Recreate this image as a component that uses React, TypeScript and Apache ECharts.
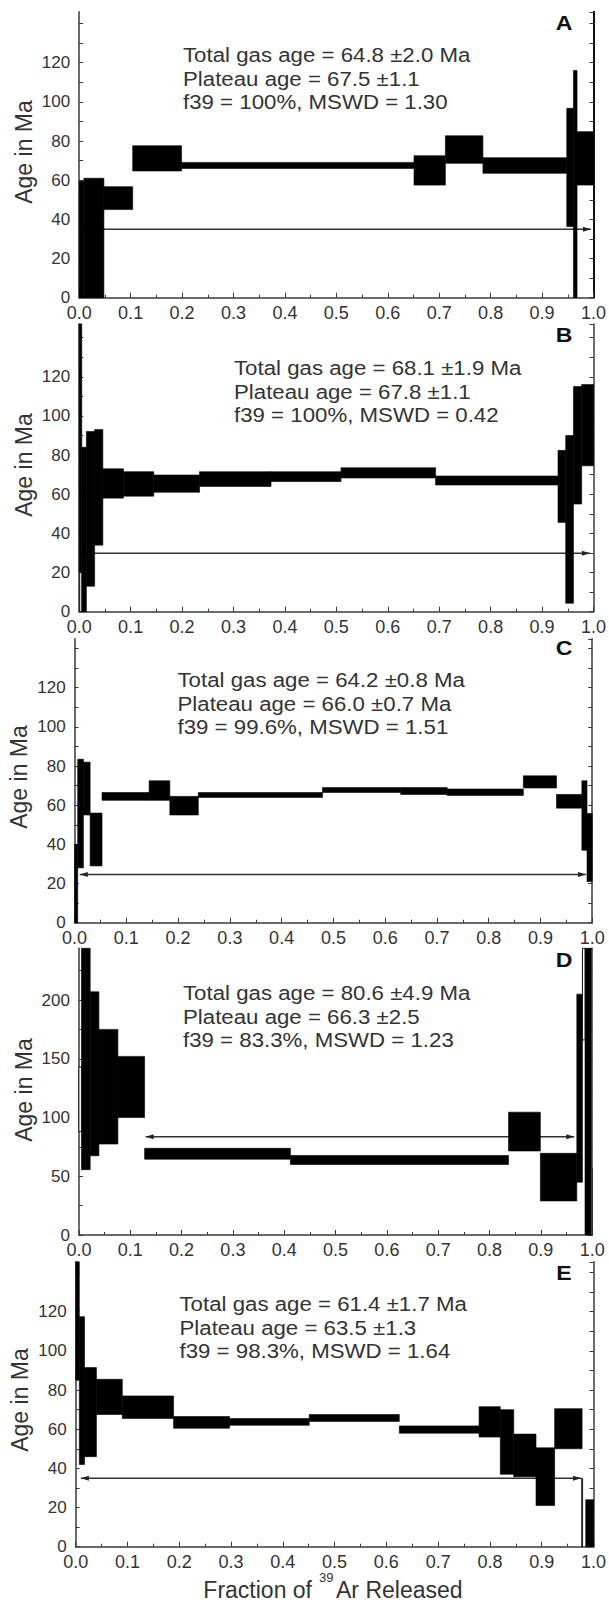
import React, { useEffect, useRef } from "react";
import * as echarts from "echarts";

// ---- tick labels ----
const ageTickLabels = [0, 20, 40, 60, 80, 100, 120];
const ageTickLabelsD = [0, 50, 100, 150, 200];
const fracTickLabels = ["0.0", "0.1", "0.2", "0.3", "0.4", "0.5", "0.6", "0.7", "0.8", "0.9", "1.0"];

// ---- step data: [cumulative fraction start, end, age low, age high] ----
const stepsA = [
  [0, 0.009, 0, 59.5],
  [0.009, 0.048, 0, 61],
  [0.048, 0.104, 45, 56.7],
  [0.104, 0.199, 64.7, 77.6],
  [0.199, 0.651, 66, 69.1],
  [0.651, 0.712, 57.5, 72.5],
  [0.712, 0.785, 68.6, 82.7],
  [0.785, 0.948, 63.5, 71.5],
  [0.948, 0.961, 36.3, 96.7],
  [0.961, 0.968, 0, 116],
  [0.968, 1.0, 57.5, 84.8],
];
const hollowA: number[][] = [];

const stepsB = [
  [0, 0.005, 20, 150],
  [0.005, 0.014, 0, 84],
  [0.014, 0.03, 13, 92],
  [0.03, 0.046, 34, 93],
  [0.046, 0.086, 58, 73],
  [0.086, 0.145, 59, 71.5],
  [0.145, 0.234, 61, 69.8],
  [0.234, 0.373, 64, 71.5],
  [0.373, 0.509, 66.5, 71.5],
  [0.509, 0.693, 68.3, 73.5],
  [0.693, 0.931, 64.7, 69.3],
  [0.931, 0.946, 45.6, 82.4],
  [0.946, 0.961, 4.3, 90],
  [0.961, 0.977, 55, 115],
  [0.977, 1.0, 74.5, 116],
];
const hollowB = [[0.001, 0.005, 0, 20]];

const stepsC = [
  [0, 0.006, 0, 40],
  [0.006, 0.017, 28, 83.5],
  [0.017, 0.03, 55, 82],
  [0.03, 0.053, 29, 56],
  [0.053, 0.144, 62.5, 66.5],
  [0.144, 0.184, 62.5, 72.5],
  [0.184, 0.239, 55, 64.5],
  [0.239, 0.479, 64, 66.5],
  [0.479, 0.63, 66.5, 69],
  [0.63, 0.72, 65.5, 69],
  [0.72, 0.867, 65, 68.3],
  [0.867, 0.931, 68.8, 75],
  [0.931, 0.98, 58.5, 65.5],
  [0.98, 0.99, 37, 72.5],
  [0.99, 1.0, 21, 55.8],
];
const hollowC: number[][] = [];

const stepsD = [
  [0.005, 0.022, 55.6, 250],
  [0.022, 0.039, 67.4, 207],
  [0.039, 0.076, 77.4, 175],
  [0.076, 0.128, 100, 152],
  [0.128, 0.412, 64.5, 73.8],
  [0.412, 0.837, 60, 67.7],
  [0.837, 0.899, 71.5, 104.5],
  [0.899, 0.97, 29, 69.5],
  [0.97, 0.981, 45, 205],
  [0.986, 0.998, 0, 250],
];
const hollowD = [
  [0.0, 0.005, 88, 143],
  [0.981, 0.986, 166, 250],
  [0.998, 1.0, 0, 57],
];

const stepsE = [
  [0, 0.007, 85, 150],
  [0.007, 0.017, 42, 117.5],
  [0.017, 0.04, 46, 91.5],
  [0.04, 0.09, 67.5, 85.5],
  [0.09, 0.189, 65.5, 77],
  [0.189, 0.297, 60.5, 66.5],
  [0.297, 0.451, 62, 65.5],
  [0.451, 0.625, 64, 67.5],
  [0.625, 0.779, 58, 61.7],
  [0.779, 0.82, 56, 71.5],
  [0.82, 0.846, 37, 70],
  [0.846, 0.889, 35.7, 57.5],
  [0.889, 0.925, 21, 50.5],
  [0.925, 0.978, 50, 70.5],
  [0.977, 0.979, 0, 35],
  [0.985, 1.0, 0, 24],
];
const hollowE: number[][] = [];

// ---- plateau arrows: [start, end, age] ----
const plateauA = [[0.0, 0.995, 34.9]];
const plateauB = [[0.0, 0.993, 29.8]];
const plateauC = [[0.01, 0.988, 24.6]];
const plateauD = [[0.13, 0.965, 83.7]];
const plateauE = [[0.01, 0.976, 34.9]];

// ---- annotation texts ----
const textsA = ["Total gas age = 64.8 \u00b12.0 Ma", "Plateau age = 67.5 \u00b11.1", "f39 = 100%, MSWD = 1.30"];
const textsB = ["Total gas age = 68.1 \u00b11.9 Ma", "Plateau age = 67.8 \u00b11.1", "f39 = 100%, MSWD = 0.42"];
const textsC = ["Total gas age = 64.2 \u00b10.8 Ma", "Plateau age = 66.0 \u00b10.7 Ma", "f39 = 99.6%, MSWD = 1.51"];
const textsD = ["Total gas age = 80.6 \u00b14.9 Ma", "Plateau age = 66.3 \u00b12.5", "f39 = 83.3%, MSWD = 1.23"];
const textsE = ["Total gas age = 61.4 \u00b11.7 Ma", "Plateau age = 63.5 \u00b11.3", "f39 = 98.3%, MSWD = 1.64"];
const panelLetters = ["A", "B", "C", "D", "E"];
const yAxisName = "Age in Ma";

const FONT = "'Liberation Sans', Arial, Helvetica, sans-serif";

export default function App() {
  const ref = useRef<HTMLDivElement>(null);

  useEffect(() => {
    if (!ref.current) return;
    const chart = echarts.init(ref.current, undefined, { renderer: "svg" });

    const panels = [
      { steps: stepsA, hollow: hollowA, plateau: plateauA, texts: textsA, grid: { left: 79.2, top: 11.8, width: 517.4, height: 285.9 }, max: 146, interval: 10, labels: ageTickLabels, textX: 183, textY: 55, letterY: 23, nameX: 24, nameY: 152 },
      { steps: stepsB, hollow: hollowB, plateau: plateauB, texts: textsB, grid: { left: 79.2, top: 323.9, width: 517.4, height: 287.8 }, max: 147, interval: 10, labels: ageTickLabels, textX: 234, textY: 368, letterY: 335, nameX: 23.5, nameY: 465 },
      { steps: stepsC, hollow: hollowC, plateau: plateauC, texts: textsC, grid: { left: 74.6, top: 638.8, width: 517.6, height: 283.9 }, max: 145, interval: 10, labels: ageTickLabels, textX: 177.5, textY: 680, letterY: 648, nameX: 19, nameY: 777 },
      { steps: stepsD, hollow: hollowD, plateau: plateauD, texts: textsD, grid: { left: 78.9, top: 948.3, width: 513.3, height: 286.7 }, max: 244, interval: 25, labels: ageTickLabelsD, textX: 183, textY: 993, letterY: 960, nameX: 24, nameY: 1090 },
      { steps: stepsE, hollow: hollowE, plateau: plateauE, texts: textsE, grid: { left: 75.7, top: 1261.8, width: 518.5, height: 284.9 }, max: 145.5, interval: 10, labels: ageTickLabels, textX: 179.5, textY: 1304, letterY: 1273, nameX: 19.5, nameY: 1400 },
    ];

    const axisColor = "#3a3a3a";
    const grids: any[] = [];
    const xAxes: any[] = [];
    const yAxes: any[] = [];
    const series: any[] = [];
    const graphics: any[] = [];

    const rectRender = (hollow: boolean) => (params: any, api: any) => {
      const p0 = api.coord([api.value(0), api.value(3)]);
      const p1 = api.coord([api.value(1), api.value(2)]);
      const cs = params.coordSys;
      const shape = echarts.graphic.clipRectByRect(
        { x: p0[0], y: p0[1], width: p1[0] - p0[0], height: p1[1] - p0[1] },
        { x: cs.x, y: cs.y, width: cs.width, height: cs.height }
      );
      if (!shape) return null;
      return {
        type: "rect",
        shape,
        style: hollow
          ? { fill: "#fff", stroke: "#111", lineWidth: 1 }
          : { fill: "#000", stroke: "#000", lineWidth: 0.6 },
      };
    };

    const plateauRender = (params: any, api: any) => {
      const a = api.coord([api.value(0), api.value(2)]);
      const b = api.coord([api.value(1), api.value(2)]);
      return {
        type: "group",
        children: [
          { type: "line", shape: { x1: a[0], y1: a[1], x2: b[0], y2: b[1] }, style: { stroke: "#333", lineWidth: 1.5 } },
          { type: "polygon", shape: { points: [[a[0], a[1]], [a[0] + 8, a[1] - 2.5], [a[0] + 8, a[1] + 2.5]] }, style: { fill: "#222" } },
          { type: "polygon", shape: { points: [[b[0], b[1]], [b[0] - 8, b[1] - 2.5], [b[0] - 8, b[1] + 2.5]] }, style: { fill: "#222" } },
        ],
      };
    };

    panels.forEach((p, i) => {
      grids.push({ ...p.grid, containLabel: false });
      xAxes.push({
        type: "value",
        gridIndex: i,
        min: 0,
        max: 1,
        interval: 0.1,
        axisLine: { show: true, onZero: false, lineStyle: { color: axisColor, width: 1.5 } },
        axisTick: { show: true, inside: true, length: 5, lineStyle: { color: axisColor } },
        minorTick: { show: true, splitNumber: 2, length: 3, lineStyle: { color: axisColor } },
        splitLine: { show: false },
        axisLabel: {
          fontSize: 18,
          color: "#333",
          fontFamily: FONT,
          margin: 6,
          formatter: (v: number) => fracTickLabels[Math.round(v * 10)] ?? "",
        },
      });
      const labels = p.labels;
      yAxes.push({
        type: "value",
        gridIndex: i,
        position: "left",
        min: 0,
        max: p.max,
        interval: p.interval,
        axisLine: { show: true, onZero: false, lineStyle: { color: axisColor, width: 1.5 } },
        axisTick: { show: true, inside: true, length: 4, lineStyle: { color: axisColor } },
        splitLine: { show: false },
        axisLabel: {
          fontSize: 17,
          color: "#333",
          fontFamily: FONT,
          margin: 9,
          showMaxLabel: false,
          formatter: (v: number) => (labels.indexOf(v) >= 0 ? String(v) : ""),
        },
      });
      yAxes.push({
        type: "value",
        gridIndex: i,
        position: "right",
        min: 0,
        max: p.max,
        interval: p.interval,
        axisLine: { show: true, onZero: false, lineStyle: { color: i === 0 ? "#111" : axisColor, width: i === 0 ? 2 : 1.5 } },
        axisTick: { show: true, inside: true, length: 4, lineStyle: { color: axisColor } },
        axisLabel: { show: false },
        splitLine: { show: false },
      });
      series.push({
        type: "custom",
        xAxisIndex: i,
        yAxisIndex: i * 2,
        data: p.plateau,
        encode: { x: [0, 1], y: 2 },
        renderItem: plateauRender,
        z: 1,
        silent: true,
      });
      series.push({
        type: "custom",
        xAxisIndex: i,
        yAxisIndex: i * 2,
        data: p.steps,
        encode: { x: [0, 1], y: [2, 3] },
        renderItem: rectRender(false),
        z: 2,
        silent: true,
      });
      if (p.hollow.length) {
        series.push({
          type: "custom",
          xAxisIndex: i,
          yAxisIndex: i * 2,
          data: p.hollow,
          encode: { x: [0, 1], y: [2, 3] },
          renderItem: rectRender(true),
          z: 3,
          silent: true,
        });
      }
      p.texts.forEach((t, k) => {
        graphics.push({
          type: "text",
          x: p.textX,
          y: p.textY + k * 23.4,
          scaleX: 1.06,
          z: 10,
          style: { text: t, fontSize: 21, fontFamily: FONT, fill: "#333", align: "left", verticalAlign: "middle" },
        });
      });
      graphics.push({
        type: "text",
        x: 564,
        y: p.letterY,
        scaleX: 1.1,
        z: 10,
        style: { text: panelLetters[i], fontSize: 21, fontWeight: "bold", fontFamily: FONT, fill: "#111", align: "center", verticalAlign: "middle" },
      });
      graphics.push({
        type: "text",
        x: p.nameX,
        y: p.nameY,
        rotation: Math.PI / 2,
        z: 10,
        style: { text: yAxisName, fontSize: 23, fontFamily: FONT, fill: "#333", align: "center", verticalAlign: "middle" },
      });
    });

    // bottom axis title with superscript
    graphics.push({
      type: "text", x: 312, y: 1590, z: 10,
      style: { text: "Fraction of", fontSize: 23, fontFamily: FONT, fill: "#333", align: "right", verticalAlign: "middle" },
    });
    graphics.push({
      type: "text", x: 319, y: 1577, z: 10,
      style: { text: "39", fontSize: 13, fontFamily: FONT, fill: "#333", align: "left", verticalAlign: "middle" },
    });
    graphics.push({
      type: "text", x: 336, y: 1590, z: 10,
      style: { text: "Ar Released", fontSize: 23, fontFamily: FONT, fill: "#333", align: "left", verticalAlign: "middle" },
    });

    chart.setOption({
      animation: false,
      backgroundColor: "#fff",
      grid: grids,
      xAxis: xAxes,
      yAxis: yAxes,
      series,
      graphic: graphics,
    });

    return () => chart.dispose();
  }, []);

  return (
    <div
      ref={ref}
      style={{ position: "absolute", left: 0, top: 0, width: 609, height: 1604, background: "#fff" }}
    />
  );
}
